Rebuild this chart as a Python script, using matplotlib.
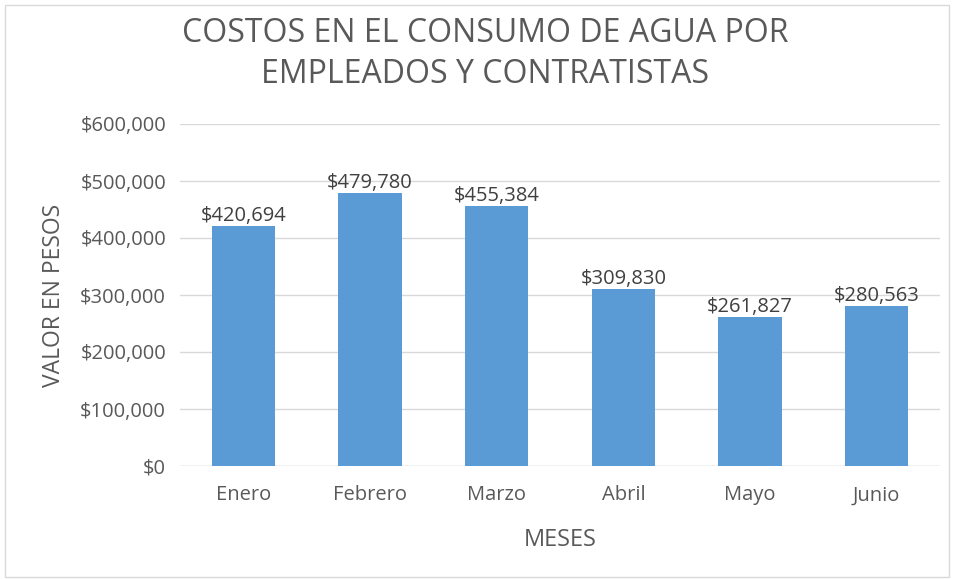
import matplotlib
matplotlib.use("Agg")
import matplotlib.pyplot as plt
from matplotlib.patches import Rectangle

months = ["Enero", "Febrero", "Marzo", "Abril", "Mayo", "Junio"]
values = [420694, 479780, 455384, 309830, 261827, 280563]
yticks = [0, 100000, 200000, 300000, 400000, 500000, 600000]

plt.rcParams['font.family'] = ['Open Sans', 'DejaVu Sans']

W, H = 954, 579
fig = plt.figure(figsize=(W/100, H/100), dpi=100)
fig.patches.append(Rectangle((5/W, 2/H), (W-10)/W, (H-7)/H, transform=fig.transFigure,
                             fill=False, edgecolor='#d9d9d9', linewidth=1))

ax = fig.add_axes([180/W, 1-466/H, 760/W, (466-124)/H])
x = range(len(months))
ax.bar(x, values, width=0.5, color='#5b9bd5', zorder=3)
ax.set_xlim(-0.5, len(months)-0.5)
ax.set_ylim(0, 600000)
ax.set_yticks(yticks)
ax.set_yticklabels([f"${v:,.0f}" for v in yticks], color='#595959', fontsize=14.5)
ax.set_xticks(list(x))
ax.set_xticklabels(months, color='#595959', fontsize=14.5)
ax.tick_params(length=0)
ax.tick_params(axis='y', pad=10)
ax.tick_params(axis='x', pad=14)
ax.grid(axis='y', color='#d9d9d9', linewidth=1, zorder=0)
for s in ax.spines.values():
    s.set_visible(False)
ax.axhline(0, color='#d9d9d9', linewidth=1, zorder=2)

for xi, v in zip(x, values):
    ax.annotate(f"${v:,.0f}", (xi, v), xytext=(0, 0), textcoords='offset points',
                ha='center', va='bottom', fontsize=14.5, color='#404040')

ax.set_xlabel("MESES", fontsize=17, color='#595959', labelpad=16)
ax.set_ylabel("VALOR EN PESOS", fontsize=16.5, color='#595959', labelpad=10)

fig.text(485/W, 1-54/H, "COSTOS EN EL CONSUMO DE AGUA POR\nEMPLEADOS Y CONTRATISTAS",
         ha='center', va='center', fontsize=23, color='#595959', linespacing=1.3)

fig.savefig("out.png", dpi=100)
